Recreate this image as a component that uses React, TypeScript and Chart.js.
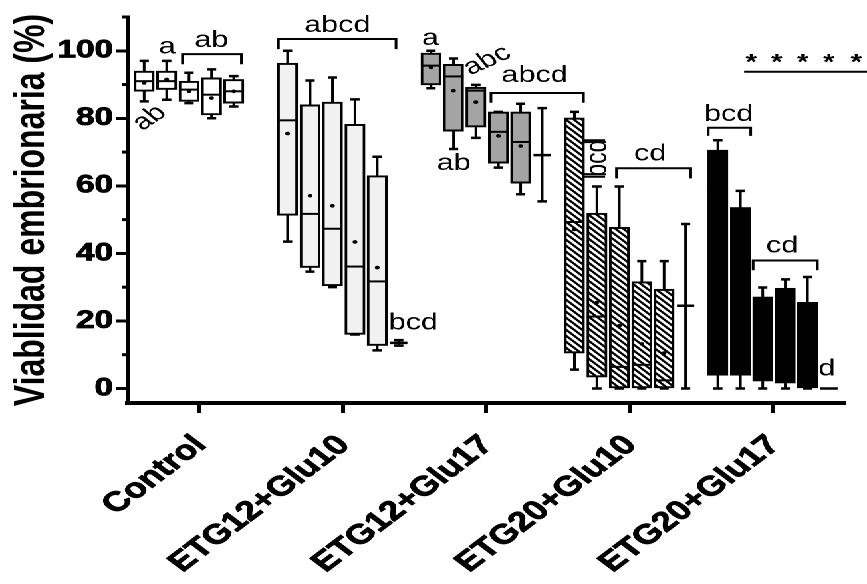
import React, { useEffect, useRef } from 'react';
import { Chart, registerables } from 'chart.js';

Chart.register(...registerables);

// ---------------- data ----------------
const categories = ['Control', 'ETG12+Glu10', 'ETG12+Glu17', 'ETG20+Glu10', 'ETG20+Glu17'];
const yTickValues = [0, 20, 40, 60, 80, 100];
const yMinorTickValues = [10, 30, 50, 70, 90, 110];
const yAxisTitle = 'Viablidad embrionaria (%)';

// each box: [min, q1, median, q3, max, mean]
const controlBoxes = [
  [85, 88, 91, 94, 97, 90.5],
  [85.5, 88.5, 91, 94, 97, 91.5],
  [84.5, 85, 88.5, 91, 93.5, 88],
  [80, 81, 87, 92, 94.5, 86],
  [83.5, 84.5, 88, 91.5, 92.5, 88],
];
const etg12Glu10Boxes = [
  [43.5, 51.3, 79.4, 96.3, 100, 75.5],
  [34.6, 35.8, 51.7, 84, 91.2, 57.1],
  [30, 30.4, 47.3, 84.8, 92.1, 54.1],
  [16, 16, 36.1, 78.2, 85.6, 43.4],
  [11.3, 12.7, 31.7, 63, 68.6, 35.8],
];
const etg12Glu17Boxes = [
  [88.9, 89.9, 95.6, 99.3, 100, 95.1],
  [70.9, 76.2, 92.4, 96, 97.7, 88.2],
  [74.2, 77.4, 88.2, 89.2, 89.9, 84.8],
  [65.4, 66.7, 76, 81.9, 81.9, 74.8],
  [57.5, 60.8, 73, 81.9, 84.3, 71.8],
];
const etg20Glu10Boxes = [
  [5.6, 10.5, 49.3, 80.1, 81.9, 47.1],
  [0, 3.4, 21.3, 51.9, 59.8, 25.5],
  [0, 0, 6.4, 47.7, 59.8, 18.6],
  [0, 0, 7, 31.6, 37.7, 13.2],
  [0, 0, 2.4, 29.4, 37.7, 10.5],
];
const etg20Glu17Boxes = [
  [0, 3.9, 60, 70.6, 73.5, 52],
  [0, 3.9, 40, 53.6, 58.5, 35],
  [0, 2.2, 18, 27.1, 29.9, 16],
  [0, 1.6, 20, 29.7, 32.3, 17],
  [0, 0, 10, 25.5, 33, 12],
];
// sixth item of each group: [min, mean, max]
const rangeItems: (number[] | null)[] = [null, [12.7, 13.5, 14.3], [55.4, 69.1, 83], [0, 24.5, 48.7], [0, 0, 0]];

// significance letters (data coordinates)
const letterLabels = [
  { text: 'ab', x: -0.348, y: 80.1, angle: -42 },
  { text: 'a', x: -0.225, y: 101, angle: 0 },
  { text: 'ab', x: 0.084, y: 103, angle: 0 },
  { text: 'abcd', x: 0.962, y: 107.4, angle: 0 },
  { text: 'bcd', x: 1.491, y: 19.4, angle: 0 },
  { text: 'a', x: 1.61, y: 103.6, angle: 0 },
  { text: 'abc', x: 2.007, y: 97.1, angle: -31 },
  { text: 'ab', x: 1.774, y: 66.6, angle: 0 },
  { text: 'abcd', x: 2.337, y: 92.6, angle: 0 },
  { text: 'bcd', x: 2.777, y: 68.2, angle: -90 },
  { text: 'cd', x: 3.143, y: 69.4, angle: 0 },
  { text: 'bcd', x: 3.691, y: 81.1, angle: 0 },
  { text: 'cd', x: 4.063, y: 42.2, angle: 0 },
  { text: 'd', x: 4.376, y: 5.7, angle: 0 },
];
const bracketSpans = [
  { x1: -0.118, x2: 0.293, top: 99, bottom: 96 },
  { x1: 0.551, x2: 1.371, top: 103.5, bottom: 100.5 },
  { x1: 2.033, x2: 2.678, top: 87.5, bottom: 84.6 },
  { x1: 2.908, x2: 3.426, top: 65.2, bottom: 62.2 },
  { x1: 3.548, x2: 3.844, top: 77.2, bottom: 74.8 },
  { x1: 3.861, x2: 4.309, top: 37.9, bottom: 35 },
];
const sideSegments = [
  { x1: 2.683, x2: 2.829, y1: 73.5, y2: 73.5 },
  { x1: 2.683, x2: 2.829, y1: 62.7, y2: 62.7 },
  { x1: 3.798, x2: 4.66, y1: 93.8, y2: 93.8 },
];
const asteriskXs = [3.847, 4.026, 4.207, 4.389, 4.58];
const asteriskY = 96.3;

// ---------------- layout / style ----------------
const STRETCH = 867 / 652;
const W = 652;
const H = 584;
const FONT = '"Liberation Sans", Arial, Helvetica, sans-serif';
const slotOffsets = [-0.385, -0.228, -0.072, 0.085, 0.24, 0.39];
const BOX_W = 15;
const groupFills = ['#ffffff', '#f1f1f1', '#a4a4a4', 'hatch', '#000000'];

function makeHatch(ctx: CanvasRenderingContext2D) {
  const size = 12;
  const c = document.createElement('canvas');
  c.width = size;
  c.height = size;
  const g = c.getContext('2d')!;
  g.fillStyle = '#fff';
  g.fillRect(0, 0, size, size);
  g.strokeStyle = '#000';
  g.lineWidth = 4;
  g.beginPath();
  for (let k = -1; k <= 1; k++) {
    g.moveTo(k * size - 1, -1);
    g.lineTo(k * size + size + 1, size + 1);
  }
  g.stroke();
  const p = ctx.createPattern(c, 'repeat')!;
  try {
    p.setTransform(new DOMMatrix().scale(0.5));
  } catch (e) {
    /* ignore */
  }
  return p;
}

const allBoxes = [controlBoxes, etg12Glu10Boxes, etg12Glu17Boxes, etg20Glu10Boxes, etg20Glu17Boxes];

const detailsPlugin = {
  id: 'boxDetails',
  beforeDatasetsDraw(chart: any) {
    const { ctx, scales } = chart;
    const x = scales.x;
    const y = scales.y;
    ctx.save();
    ctx.strokeStyle = '#000';
    allBoxes.forEach((boxes, g) => {
      boxes.forEach((b, i) => {
        const cx = x.getPixelForValue(g + slotOffsets[i]);
        const pMin = y.getPixelForValue(b[0]);
        const pQ1 = y.getPixelForValue(b[1]);
        const pQ3 = y.getPixelForValue(b[3]);
        const pMax = y.getPixelForValue(b[4]);
        ctx.lineWidth = 2;
        ctx.beginPath();
        ctx.moveTo(cx, pQ3);
        ctx.lineTo(cx, pMax);
        ctx.moveTo(cx, pQ1);
        ctx.lineTo(cx, pMin);
        ctx.stroke();
        ctx.lineWidth = 2.5;
        ctx.beginPath();
        ctx.moveTo(cx - 3.5, pMax);
        ctx.lineTo(cx + 3.5, pMax);
        ctx.moveTo(cx - 3.5, pMin);
        ctx.lineTo(cx + 3.5, pMin);
        ctx.stroke();
      });
    });
    ctx.restore();
  },
  afterDatasetsDraw(chart: any) {
    const { ctx, scales } = chart;
    const x = scales.x;
    const y = scales.y;
    ctx.save();
    ctx.strokeStyle = '#000';
    ctx.fillStyle = '#000';
    allBoxes.forEach((boxes, g) => {
      boxes.forEach((b, i) => {
        const cx = x.getPixelForValue(g + slotOffsets[i]);
        const pMed = y.getPixelForValue(b[2]);
        const pMean = y.getPixelForValue(b[5]);
        ctx.lineWidth = 2;
        ctx.beginPath();
        ctx.moveTo(cx - BOX_W / 2, pMed);
        ctx.lineTo(cx + BOX_W / 2, pMed);
        ctx.stroke();
        ctx.beginPath();
        ctx.arc(cx, pMean, 1.8, 0, Math.PI * 2);
        ctx.fill();
      });
      const r = rangeItems[g];
      if (r) {
        const cx = x.getPixelForValue(g + slotOffsets[5]);
        const p0 = y.getPixelForValue(r[0]);
        const p1 = y.getPixelForValue(r[1]);
        const p2 = y.getPixelForValue(r[2]);
        ctx.lineWidth = 2;
        ctx.beginPath();
        ctx.moveTo(cx, p0);
        ctx.lineTo(cx, p2);
        ctx.stroke();
        ctx.lineWidth = 2.5;
        ctx.beginPath();
        ctx.moveTo(cx - 3.5, p0);
        ctx.lineTo(cx + 3.5, p0);
        ctx.moveTo(cx - 3.5, p2);
        ctx.lineTo(cx + 3.5, p2);
        ctx.moveTo(cx - 6.5, p1);
        ctx.lineTo(cx + 6.5, p1);
        ctx.stroke();
      }
    });
    ctx.restore();
  },
  afterDraw(chart: any) {
    const { ctx, scales, chartArea } = chart;
    const x = scales.x;
    const y = scales.y;
    ctx.save();
    ctx.strokeStyle = '#000';
    ctx.fillStyle = '#000';
    // minor ticks on the y axis
    ctx.lineWidth = 3;
    yMinorTickValues.forEach((v) => {
      const py = y.getPixelForValue(v);
      ctx.beginPath();
      ctx.moveTo(chartArea.left - 4.5, py);
      ctx.lineTo(chartArea.left, py);
      ctx.stroke();
    });
    // brackets
    ctx.lineWidth = 2;
    bracketSpans.forEach((b) => {
      const x1 = x.getPixelForValue(b.x1);
      const x2 = x.getPixelForValue(b.x2);
      const t = y.getPixelForValue(b.top);
      const bt = y.getPixelForValue(b.bottom);
      ctx.beginPath();
      ctx.moveTo(x1, bt);
      ctx.lineTo(x1, t);
      ctx.lineTo(x2, t);
      ctx.lineTo(x2, bt);
      ctx.stroke();
    });
    sideSegments.forEach((s) => {
      ctx.beginPath();
      ctx.moveTo(x.getPixelForValue(s.x1), y.getPixelForValue(s.y1));
      ctx.lineTo(x.getPixelForValue(s.x2), y.getPixelForValue(s.y2));
      ctx.stroke();
    });
    // letters
    ctx.font = `23px ${FONT}`;
    ctx.textAlign = 'center';
    ctx.textBaseline = 'middle';
    letterLabels.forEach((l) => {
      ctx.save();
      ctx.translate(x.getPixelForValue(l.x), y.getPixelForValue(l.y));
      ctx.rotate((l.angle * Math.PI) / 180);
      ctx.fillText(l.text, 0, 0);
      ctx.restore();
    });
    // asterisks
    ctx.font = `bold 22px ${FONT}`;
    asteriskXs.forEach((ax) => {
      ctx.fillText('*', x.getPixelForValue(ax), y.getPixelForValue(asteriskY));
    });
    ctx.restore();
  },
};

export default function App() {
  const ref = useRef<HTMLCanvasElement>(null);
  useEffect(() => {
    const canvas = ref.current;
    if (!canvas) return;
    const ctx = canvas.getContext('2d')!;
    const hatch = makeHatch(ctx);
    const datasets = allBoxes.map((boxes, g) => ({
      type: 'bar' as const,
      label: categories[g],
      data: boxes.map((b, i) => ({ x: g + slotOffsets[i], y: [b[1], b[3]] })),
      backgroundColor: groupFills[g] === 'hatch' ? hatch : groupFills[g],
      borderColor: '#000',
      borderWidth: 2,
      borderSkipped: false,
      barThickness: BOX_W,
      grouped: false,
    }));
    const chart = new Chart(canvas, {
      type: 'bar',
      data: { datasets: datasets as any },
      options: {
        animation: false,
        responsive: false,
        devicePixelRatio: 2,
        layout: { padding: { top: 14, right: 16.7, left: 0, bottom: 0 } },
        plugins: {
          legend: { display: false },
          tooltip: { enabled: false },
          title: { display: false },
        },
        scales: {
          x: {
            type: 'linear',
            min: -0.5,
            max: 4.5,
            offset: false,
            afterBuildTicks: (s: any) => {
              s.ticks = categories.map((_, i) => ({ value: i }));
            },
            afterFit: (s: any) => {
              s.height = 181;
            },
            ticks: {
              autoSkip: false,
              minRotation: 45,
              maxRotation: 45,
              padding: 16,
              labelOffset: 1,
              color: '#000',
              textStrokeColor: '#000',
              textStrokeWidth: 0.8,
              font: { family: FONT, size: 27.5, weight: 'bold' },
              callback: (v: any) => categories[Math.round(Number(v))] ?? '',
            },
            grid: {
              display: true,
              offset: false,
              drawOnChartArea: false,
              drawTicks: true,
              tickLength: 10,
              tickWidth: 3,
              tickColor: '#000',
              color: '#000',
            },
            border: { display: true, color: '#000', width: 4 },
          },
          y: {
            type: 'linear',
            min: -4.3,
            max: 110,
            afterBuildTicks: (s: any) => {
              s.ticks = yTickValues.map((v) => ({ value: v }));
            },
            afterFit: (s: any) => {
              s.width = 96;
            },
            ticks: {
              padding: 2,
              color: '#000',
              textStrokeColor: '#000',
              textStrokeWidth: 0.8,
              font: { family: FONT, size: 25, weight: 'bold' },
              callback: (v: any) => String(v),
            },
            grid: {
              display: true,
              drawOnChartArea: false,
              drawTicks: true,
              tickLength: 9,
              tickWidth: 3,
              tickColor: '#000',
              color: '#000',
            },
            border: { display: true, color: '#000', width: 3.5 },
            title: {
              display: true,
              text: yAxisTitle,
              color: '#000',
              font: { family: FONT, size: 32, weight: 'bold' },
              padding: { top: 5, bottom: 0 },
            },
          },
        },
      } as any,
      plugins: [detailsPlugin],
    });
    return () => chart.destroy();
  }, []);

  return (
    <div
      style={{
        position: 'absolute',
        left: 0,
        top: 0,
        width: W,
        height: H,
        background: '#fff',
        transform: `scaleX(${STRETCH})`,
        transformOrigin: '0 0',
      }}
    >
      <canvas ref={ref} width={W} height={H} />
    </div>
  );
}
